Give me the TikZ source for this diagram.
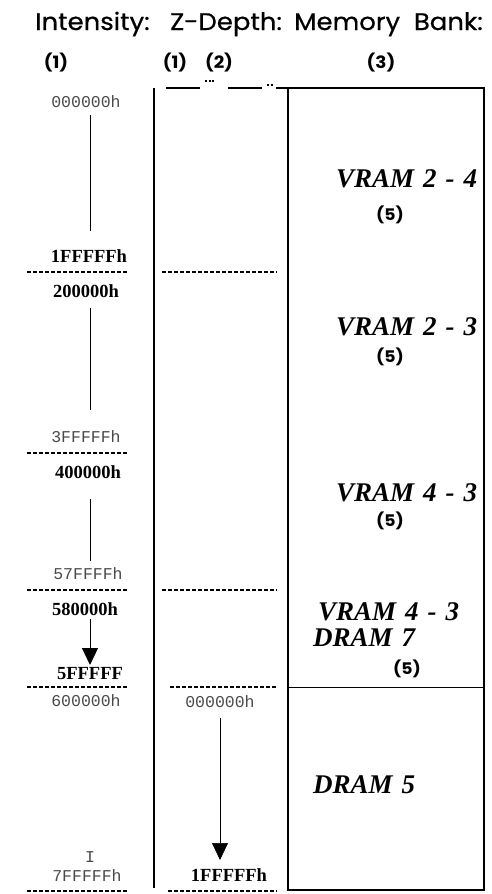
\documentclass[tikz,border=0pt]{standalone}
\usepackage{fontspec}
\setmainfont{Liberation Serif}
\newfontfamily\titlefont[FakeStretch=1.08,FakeBold=0.6]{Poppins}
\newfontfamily\notefont[FakeStretch=1.08]{Poppins}
\newfontfamily\addrmono{Liberation Mono}
\usetikzlibrary{arrows.meta}
\definecolor{monogray}{HTML}{4A4A4A}
\newcommand\wgap{\hspace{9pt}}
\tikzset{
  heading/.style={anchor=base west, inner sep=0pt, font=\titlefont\fontsize{24}{27}\selectfont},
  colnum/.style={anchor=base, inner sep=0pt, font=\notefont\bfseries\fontsize{17}{19}\selectfont},
  addrplain/.style={anchor=base, inner sep=0pt, text=monogray, font=\addrmono\fontsize{16.5}{18}\selectfont},
  addrbold/.style={anchor=base, inner sep=0pt, font=\bfseries\fontsize{18.5}{20}\selectfont},
  bank/.style={anchor=base west, inner sep=0pt, font=\bfseries\itshape\fontsize{27}{30}\selectfont},
  banknote/.style={anchor=base, inner sep=0pt, font=\notefont\bfseries\fontsize{16}{18}\selectfont},
  frame/.style={line width=1.4pt},
  bound/.style={line width=1.3pt, dash pattern=on 3.5pt off 2.5pt},
  guide/.style={line width=1pt},
  tip/.style={-{Triangle[length=17pt,width=16pt]}}
}
\begin{document}
\begin{tikzpicture}[x=1pt,y=-1pt]
\useasboundingbox (0,0) rectangle (491,894);

% column headings
\node[heading] (hInt) at (35,30) {Intensity:};
\node[heading] (hZ) at (170,30) {Z-Depth:};
\node[heading] (hMem) at (294,30) {Memory\ \ Bank:};
\node[colnum] (n1) at (56,68) {(1)};
\node[colnum] (n1b) at (175,68) {(1)};
\node[colnum] (n2) at (219,68) {(2)};
\node[colnum] (n3) at (381,68) {(3)};

% top marks over the Z-depth column
\draw[line width=1.2pt] (166,88) -- (200,88);
\draw[line width=1.2pt, dash pattern=on 2pt off 1.5pt] (205,81) -- (215,81);
\draw[line width=1.2pt] (228,88) -- (262,88);
\draw[line width=1.2pt, dash pattern=on 2pt off 1.5pt] (267,85) -- (273,85);

% memory bank frame
\coordinate (bTL) at (288,88);
\coordinate (bTR) at (484,88);
\coordinate (bBL) at (288,890);
\coordinate (bBR) at (484,890);
\draw[frame] (276,88) -- (bTR) -- (bBR) -- (bBL) -- (bTL);
\draw[line width=1pt] (288,687) -- (484,687);
% left rule of the Z-depth column
\coordinate (zTop) at (154,88);
\coordinate (zBot) at (154,888);
\draw[frame] (zTop) -- (zBot);

% boundaries
\foreach \y in {272,453,590,687,891} \draw[bound] (27,\y) -- (128,\y);
\foreach \y/\xa in {272/162,590/162,687/170,891/168} \draw[bound] (\xa,\y) -- (277,\y);

% intensity addresses
\node[addrplain] (i0) at (86,107) {000000h};
\node[addrbold] (i1) at (89,262) {1FFFFFh};
\node[addrbold] (i2) at (86,297) {200000h};
\node[addrplain] (i3) at (86,442) {3FFFFFh};
\node[addrbold] (i4) at (88,478) {400000h};
\node[addrplain] (i5) at (88,579) {57FFFFh};
\node[addrbold] (i6) at (85,615) {580000h};
\node[addrbold] (i7) at (90,679) {5FFFFF};
\node[addrplain] (i8) at (86,706) {600000h};
\node[addrplain] (i9) at (90,862) {I};
\node[addrplain] (i10) at (87,881) {7FFFFFh};

\coordinate (s0) at (90,115); \coordinate (e0) at (90,231);
\coordinate (s1) at (90,308); \coordinate (e1) at (90,410);
\coordinate (s2) at (90,499); \coordinate (e2) at (90,561);
\coordinate (s3) at (90,619); \coordinate (e3) at (90,665);
\draw[guide] (s0) -- (e0);
\draw[guide] (s1) -- (e1);
\draw[guide] (s2) -- (e2);
\draw[guide, tip] (s3) -- (e3);

% Z-depth addresses
\node[addrplain] (z0) at (220,707) {000000h};
\node[addrbold] (z1) at (229,881) {1FFFFFh};
\coordinate (zs) at (220,718);
\coordinate (ze) at (220,860);
\draw[line width=0.6pt, tip] (zs) -- (ze);

% memory banks
\node[bank] (v1) at (336,187) {VRAM\wgap 2\wgap -\wgap 4};
\node[banknote] (v1n) at (390,220) {(5)};
\node[bank] (v2) at (336,335) {VRAM\wgap 2\wgap -\wgap 3};
\node[banknote] (v2n) at (390,362) {(5)};
\node[bank] (v3) at (336,501) {VRAM\wgap 4\wgap -\wgap 3};
\node[banknote] (v3n) at (390,526) {(5)};
\node[bank] (v4) at (318,620) {VRAM\wgap 4\wgap -\wgap 3};
\node[bank] (v4b) at (313,646) {DRAM\wgap 7};
\node[banknote] (v4n) at (407,674) {(5)};
\node[bank] (d5) at (313,793) {DRAM\wgap 5};
\end{tikzpicture}
\end{document}
